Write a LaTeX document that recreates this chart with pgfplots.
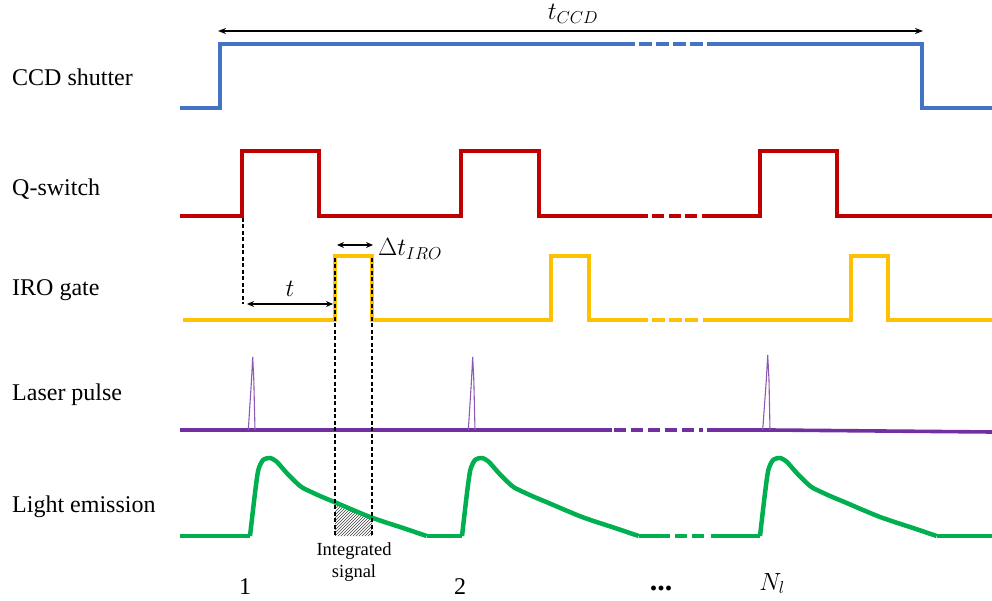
\documentclass[border=0pt]{standalone}
\usepackage{fontspec}
\setmainfont{Liberation Serif}
\newfontfamily\tnr{Liberation Serif}
\usepackage{pgfplots}
\pgfplotsset{compat=1.18}
\usetikzlibrary{patterns,arrows.meta}
\definecolor{cblue}{HTML}{4472C4}
\definecolor{cred}{HTML}{C00000}
\definecolor{cyel}{HTML}{FFC000}
\definecolor{cpur}{HTML}{7030A0}
\definecolor{cgrn}{HTML}{00B050}
\begin{document}
\begin{tikzpicture}
\begin{axis}[width=992pt,height=601pt,scale only axis,
  xmin=0,xmax=992,ymin=0,ymax=601,y dir=reverse,hide axis,clip=false]
% CCD shutter
\addplot[cblue,line width=3.6pt,line join=miter] coordinates {(180,108)(220,108)(220,44)(635,44)};
\addplot[cblue,line width=3.6pt,dash pattern=on 13pt off 4pt] coordinates {(639,44)(703,44)};
\addplot[cblue,line width=3.6pt,line join=miter] coordinates {(707,44)(922,44)(922,108)(992,108)};
% Q-switch
\addplot[cred,line width=3.6pt,line join=miter] coordinates {(180,216)(242,216)(242,151)(319,151)(319,216)(461,216)(461,151)(539,151)(539,216)(648,216)};
\addplot[cred,line width=3.6pt,dash pattern=on 12pt off 4.5pt] coordinates {(652,216)(698,216)};
\addplot[cred,line width=3.6pt,line join=miter] coordinates {(702,216)(760,216)(760,151)(837,151)(837,216)(992,216)};
% IRO gate
\addplot[cyel,line width=3.6pt,line join=miter] coordinates {(183,320)(335,320)(335,256)(372,256)(372,320)(551,320)(551,256)(589,256)(589,320)(648,320)};
\addplot[cyel,line width=3.6pt,dash pattern=on 13pt off 3.5pt] coordinates {(652,320)(699,320)};
\addplot[cyel,line width=3.6pt,line join=miter] coordinates {(703,320)(851,320)(851,256)(888,256)(888,320)(992,320)};
% Laser pulse baseline
\addplot[cpur,line width=3.6pt] coordinates {(180,430)(612,430)};
\addplot[cpur,line width=3.6pt,dash pattern=on 12pt off 5pt] coordinates {(614,430)(703,430)};
\addplot[cpur,line width=3.6pt] coordinates {(707,430)(770,430)(992,432)};
% spikes
\addplot[cpur!80,line width=1.1pt] coordinates {(248.3,430)(251.5,380)(252.7,357)(253.8,380)(255,430)};
\addplot[cpur!80,line width=1.1pt] coordinates {(468.3,430)(471.5,380)(472.7,357)(473.8,380)(475,430)};
\addplot[cpur!80,line width=1.1pt] coordinates {(762.7,430)(766.3,380)(767.7,355)(769,380)(770,430)};
% hatched integrated signal
\addplot[draw=none,pattern=north east lines,pattern color=black!75] coordinates {(335,536)(335,502.4)(353,510)(372,517.6)(372,536)} -- cycle;
% Light emission
\addplot[cgrn,line width=4.5pt] coordinates {(180,536)(250,536)};
\addplot[cgrn,line width=4.5pt,smooth,tension=0.4] coordinates {(250,536)(255,493)(258.3,470)(263,460)(270,458)(276.7,461.7)(286.7,473)(296.7,483)(303,488)(320,496)(336.7,503)(353,510)(370,517)(386.7,522.7)(403,528)(426.7,536)};
\addplot[cgrn,line width=4.5pt] coordinates {(426.7,536)(462,536)};
\addplot[cgrn,line width=4.5pt,smooth,tension=0.4] coordinates {(462,536)(467,493)(470.3,470)(475,460)(482,458)(488.7,461.7)(498.7,473)(508.7,483)(515,488)(532,496)(548.7,503)(565,510)(582,517)(598.7,522.7)(615,528)(638.7,536)};
\addplot[cgrn,line width=4.5pt] coordinates {(638.7,536)(670,536)};
\addplot[cgrn,line width=4.5pt,dash pattern=on 12pt off 5pt] coordinates {(675,536)(705,536)};
\addplot[cgrn,line width=4.5pt] coordinates {(711,536)(760,536)};
\addplot[cgrn,line width=4.5pt,smooth,tension=0.4] coordinates {(760,536)(765,493)(768.3,470)(773,460)(780,458)(786.7,461.7)(796.7,473)(806.7,483)(813,488)(830,496)(846.7,503)(863,510)(880,517)(896.7,522.7)(913,528)(936.7,536)};
\addplot[cgrn,line width=4.5pt] coordinates {(936.7,536)(992,536)};
% dashed guides
\addplot[black,line width=1.4pt,dash pattern=on 4pt off 2.5pt] coordinates {(243,218)(243,304)};
\addplot[black,line width=1.4pt,dash pattern=on 4pt off 2.5pt] coordinates {(335,258)(335,536)};
\addplot[black,line width=1.4pt,dash pattern=on 4pt off 2.5pt] coordinates {(372,258)(372,536)};
% arrows
\addplot[black,line width=1.6pt,{Stealth[length=8pt,width=6pt]}-{Stealth[length=8pt,width=6pt]}] coordinates {(218,31)(923,31)};
\addplot[black,line width=1.6pt,{Stealth[length=7pt,width=6pt]}-{Stealth[length=7pt,width=6pt]}] coordinates {(247,304)(333,304)};
\addplot[black,line width=1.6pt,{Stealth[length=7pt,width=6pt]}-{Stealth[length=7pt,width=6pt]}] coordinates {(337,245)(373,245)};
% labels
\begin{scope}[every node/.style={font=\tnr\fontsize{24}{28}\selectfont,inner sep=0pt}]
\node[anchor=base west] at (axis cs:12,86) {CCD shutter};
\node[anchor=base west] at (axis cs:12,196) {Q-switch};
\node[anchor=base west] at (axis cs:12,295) {IRO gate};
\node[anchor=base west] at (axis cs:12,400) {Laser pulse};
\node[anchor=base west] at (axis cs:12,512) {Light emission};
\node[anchor=base] at (axis cs:573,20) {\fontsize{26}{30}\selectfont$t_{CCD}$};
\node[anchor=base] at (axis cs:290,297) {\fontsize{26}{30}\selectfont$t$};
\node[anchor=base west] at (axis cs:378,256) {\fontsize{26}{30}\selectfont$\Delta t_{IRO}$};
\node[anchor=base] at (axis cs:245,594) {1};
\node[anchor=base] at (axis cs:460,594) {2};
\node[anchor=base] at (axis cs:661,590) {\fontsize{30}{32}\selectfont\bfseries...};
\node[anchor=base] at (axis cs:772,590) {\fontsize{26}{30}\selectfont$N_l$};
\end{scope}
\node[anchor=base,font=\tnr\fontsize{18.5}{21}\selectfont,inner sep=0pt] at (axis cs:354,555) {Integrated};
\node[anchor=base,font=\tnr\fontsize{18.5}{21}\selectfont,inner sep=0pt] at (axis cs:354,577) {signal};
\end{axis}
\pgfresetboundingbox
\path[use as bounding box] (current axis.south west) rectangle (current axis.north east);
\end{tikzpicture}
\end{document}
